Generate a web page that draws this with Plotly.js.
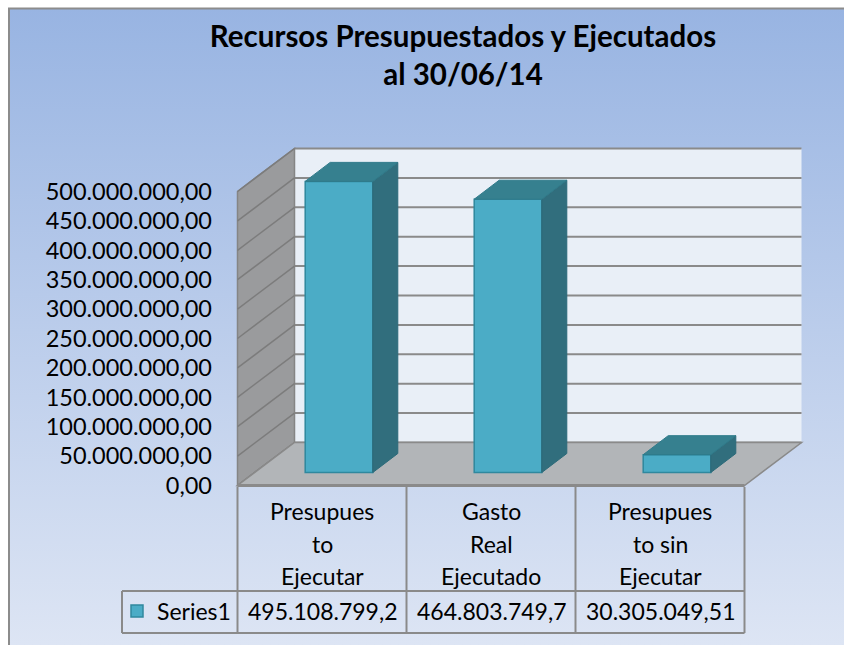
<!DOCTYPE html>
<html>
<head>
<meta charset="utf-8">
<script src="https://cdn.plot.ly/plotly-3.0.1.min.js"></script>
<style>
    body { margin: 0; background: #ffffff; }
    #chart { width: 844px; height: 645px; }
</style>
</head>
<body>
<div id="chart"></div>
<script>
// datos del gráfico
const categories = ['Presupues<br>to<br>Ejecutar', 'Gasto<br>Real<br>Ejecutado', 'Presupues<br>to sin<br>Ejecutar'];
const values = [495108799.2, 464803749.7, 30305049.51];
const seriesName = 'Series1';
const yTicks = [0, 50000000, 100000000, 150000000, 200000000, 250000000,
    300000000, 350000000, 400000000, 450000000, 500000000];
const chartTitle = 'Recursos Presupuestados y Ejecutados<br>al 30/06/14';

// geometría (pixeles de la figura -> unidades de los ejes)
const W = 844, H = 645;
const X0 = 339, XU = 169;            // centro de la 1a categoría, px por categoría
const Y0 = 472.5, YU = 294 / 500e6;  // cero en el plano de las barras, px por unidad

function pxX(px) { return (px - X0) / XU; }
function pxY(py) { return (Y0 - py) / YU; }

// desplazamientos de profundidad (vista 3D oblicua)
const FRONT = { dx: -17 / XU, dy: -13 / YU };
const BACK = { dx: 40 / XU, dy: 30 / YU };
const BAR_D = { dx: 25 / XU, dy: 19 / YU };
const BAR_W = 0.40;
const FONT = 'Lato, "Open Sans", sans-serif';

document.addEventListener('DOMContentLoaded', () => {
    init();
});

function init() {
    const traces = [createBars(), createSideFaces(), createTopFaces(), createTickHolder()];
    Plotly.newPlot('chart', traces, createLayout(), { staticPlot: true, displayModeBar: false });
}

function fmtNum(v) {
    // formato como la tabla de Excel: miles con punto, decimales con coma
    const parts = v.toString().split('.');
    const ip = parts[0].replace(/\B(?=(\d{3})+(?!\d))/g, '.');
    return parts[1] ? ip + ',' + parts[1] : ip;
}

function createBars() {
    return {
        type: 'bar',
        x: values.map((v, i) => i),
        y: values,
        width: BAR_W,
        name: seriesName,
        marker: { color: '#4bacc6', line: { color: '#2f889e', width: 1.5 } },
        hoverinfo: 'skip',
        showlegend: true
    };
}

function createSideFaces() {
    const xs = [], ys = [];
    values.forEach((v, i) => {
        const r = i + BAR_W / 2;
        xs.push(r, r, r + BAR_D.dx, r + BAR_D.dx, r, null);
        ys.push(0, v, v + BAR_D.dy, BAR_D.dy, 0, null);
    });
    return {
        type: 'scatter', mode: 'lines', x: xs, y: ys,
        fill: 'toself', fillcolor: '#316e7d',
        line: { color: '#2c6a79', width: 1 },
        hoverinfo: 'skip', showlegend: false
    };
}

function createTopFaces() {
    const xs = [], ys = [];
    values.forEach((v, i) => {
        const l = i - BAR_W / 2, r = i + BAR_W / 2;
        xs.push(l, l + BAR_D.dx, r + BAR_D.dx, r, l, null);
        ys.push(v, v + BAR_D.dy, v + BAR_D.dy, v, v, null);
    });
    return {
        type: 'scatter', mode: 'lines', x: xs, y: ys,
        fill: 'toself', fillcolor: '#36808f',
        line: { color: '#2f7a8a', width: 1 },
        hoverinfo: 'skip', showlegend: false
    };
}

function createTickHolder() {
    // traza vacía para que se dibuje el eje de valores (plano frontal)
    return { type: 'scatter', x: [], y: [], yaxis: 'y2', hoverinfo: 'skip', showlegend: false };
}

function wallShapes() {
    const shapes = [];
    const yMax = yTicks[yTicks.length - 1];
    const xl = -0.5, xr = values.length - 0.5;

    // pared del fondo
    shapes.push({
        type: 'rect', xref: 'x', yref: 'y', layer: 'below',
        x0: xl + BACK.dx, x1: xr + BACK.dx, y0: BACK.dy, y1: yMax + BACK.dy,
        fillcolor: '#e9eff7', line: { width: 0 }
    });
    yTicks.forEach(v => {
        shapes.push({
            type: 'line', xref: 'x', yref: 'y', layer: 'below',
            x0: xl + BACK.dx, x1: xr + BACK.dx, y0: v + BACK.dy, y1: v + BACK.dy,
            line: { color: '#8a8a8a', width: 2 }
        });
    });

    // pared lateral
    shapes.push({
        type: 'path', xref: 'x', yref: 'y', layer: 'below',
        path: `M${xl + FRONT.dx},${FRONT.dy} L${xl + FRONT.dx},${yMax + FRONT.dy} ` +
            `L${xl + BACK.dx},${yMax + BACK.dy} L${xl + BACK.dx},${BACK.dy} Z`,
        fillcolor: '#9a9b9d', line: { color: '#858585', width: 1.5 }
    });
    yTicks.forEach(v => {
        shapes.push({
            type: 'line', xref: 'x', yref: 'y', layer: 'below',
            x0: xl + FRONT.dx, x1: xl + BACK.dx, y0: v + FRONT.dy, y1: v + BACK.dy,
            line: { color: '#7c7c7c', width: 1.5 }
        });
    });

    // piso
    shapes.push({
        type: 'path', xref: 'x', yref: 'y', layer: 'below',
        path: `M${xl + FRONT.dx},${FRONT.dy} L${xr + FRONT.dx},${FRONT.dy} ` +
            `L${xr + BACK.dx},${BACK.dy} L${xl + BACK.dx},${BACK.dy} Z`,
        fillcolor: '#b2b5b8', line: { color: '#8a8a8a', width: 1.5 }
    });
    shapes.push({
        type: 'line', xref: 'x', yref: 'y', layer: 'below',
        x0: xl + FRONT.dx, x1: xr + FRONT.dx, y0: FRONT.dy, y1: FRONT.dy,
        line: { color: '#8a8a8a', width: 3 }
    });
    return shapes;
}

function tableShapes() {
    const shapes = [];
    const tTop = pxY(487), tMid = pxY(591), tBot = pxY(633);
    const xLeg = pxX(122);
    const xEnd = values.length - 0.5 + FRONT.dx;
    const line = { color: '#8a8a8a', width: 2 };

    for (let i = 0; i <= values.length; i++) {
        const x = i - 0.5 + FRONT.dx;
        shapes.push({ type: 'line', xref: 'x', yref: 'y', x0: x, x1: x, y0: tTop, y1: tBot, line: line });
    }
    shapes.push({ type: 'line', xref: 'x', yref: 'y', x0: xLeg, x1: xEnd, y0: tMid, y1: tMid, line: line });
    shapes.push({ type: 'line', xref: 'x', yref: 'y', x0: xLeg, x1: xEnd, y0: tBot, y1: tBot, line: line });
    shapes.push({ type: 'line', xref: 'x', yref: 'y', x0: xLeg, x1: xLeg, y0: tMid, y1: tBot, line: line });
    return shapes;
}

function tableAnnotations() {
    const notes = [];
    const font = { family: FONT, size: 23, color: '#000000' };
    categories.forEach((cat, i) => {
        cat.split('<br>').forEach((ln, k) => {
            notes.push({
                xref: 'x', yref: 'y', x: i + FRONT.dx, y: pxY(511 + 32.5 * k),
                text: ln, showarrow: false, font: font, xanchor: 'center', yanchor: 'middle'
            });
        });
    });
    values.forEach((v, i) => {
        notes.push({
            xref: 'x', yref: 'y', x: i + FRONT.dx, y: pxY(611),
            text: fmtNum(v), showarrow: false, font: font, xanchor: 'center', yanchor: 'middle'
        });
    });
    return notes;
}

function backgroundImage() {
    // fondo degradado y marco del área del gráfico
    const svg = '<svg xmlns="http://www.w3.org/2000/svg" width="844" height="645">' +
        '<defs><linearGradient id="g" gradientUnits="userSpaceOnUse" x1="0" y1="8" x2="0" y2="645">' +
        '<stop offset="0" stop-color="#98b4e2"/><stop offset="1" stop-color="#dde5f4"/></linearGradient></defs>' +
        '<rect x="9" y="8.5" width="900" height="700" fill="url(#g)" stroke="#8c8c8c" stroke-width="2"/></svg>';
    return {
        source: 'data:image/svg+xml;charset=utf-8,' + encodeURIComponent(svg),
        xref: 'paper', yref: 'paper', x: 0, y: 1, sizex: 1, sizey: 1,
        xanchor: 'left', yanchor: 'top', sizing: 'stretch', layer: 'below'
    };
}

function createLayout() {
    const yr = [pxY(H), pxY(0)];
    return {
        width: W,
        height: H,
        margin: { l: 0, r: 0, t: 0, b: 0 },
        paper_bgcolor: '#ffffff',
        plot_bgcolor: 'rgba(0,0,0,0)',
        separators: ',.',
        font: { family: FONT, color: '#000000' },
        title: {
            text: '<b>' + chartTitle.replace('<br>', '</b><br><b>') + '</b>',
            font: { family: FONT, size: 29.5, color: '#000000' },
            x: 463 / W, xanchor: 'center',
            y: 1 - 47 / H, yanchor: 'top'
        },
        xaxis: { range: [pxX(0), pxX(W)], visible: false, fixedrange: true },
        yaxis: { range: yr, visible: false, fixedrange: true },
        yaxis2: {
            overlaying: 'y', anchor: 'free', position: 238 / W, side: 'left',
            range: [yr[0] - FRONT.dy, yr[1] - FRONT.dy],
            tickvals: yTicks, tickformat: ',.2f',
            showgrid: false, zeroline: false, showline: false, ticks: '',
            ticklabelstandoff: 26,
            tickfont: { family: FONT, size: 23.5, color: '#000000' }
        },
        showlegend: true,
        legend: {
            x: 117 / W, y: 1 - 611 / H, xanchor: 'left', yanchor: 'middle',
            bgcolor: 'rgba(0,0,0,0)', borderwidth: 0,
            font: { family: FONT, size: 23, color: '#000000' }
        },
        hovermode: false,
        images: [backgroundImage()],
        shapes: wallShapes().concat(tableShapes()),
        annotations: tableAnnotations()
    };
}
</script>
</body>
</html>
